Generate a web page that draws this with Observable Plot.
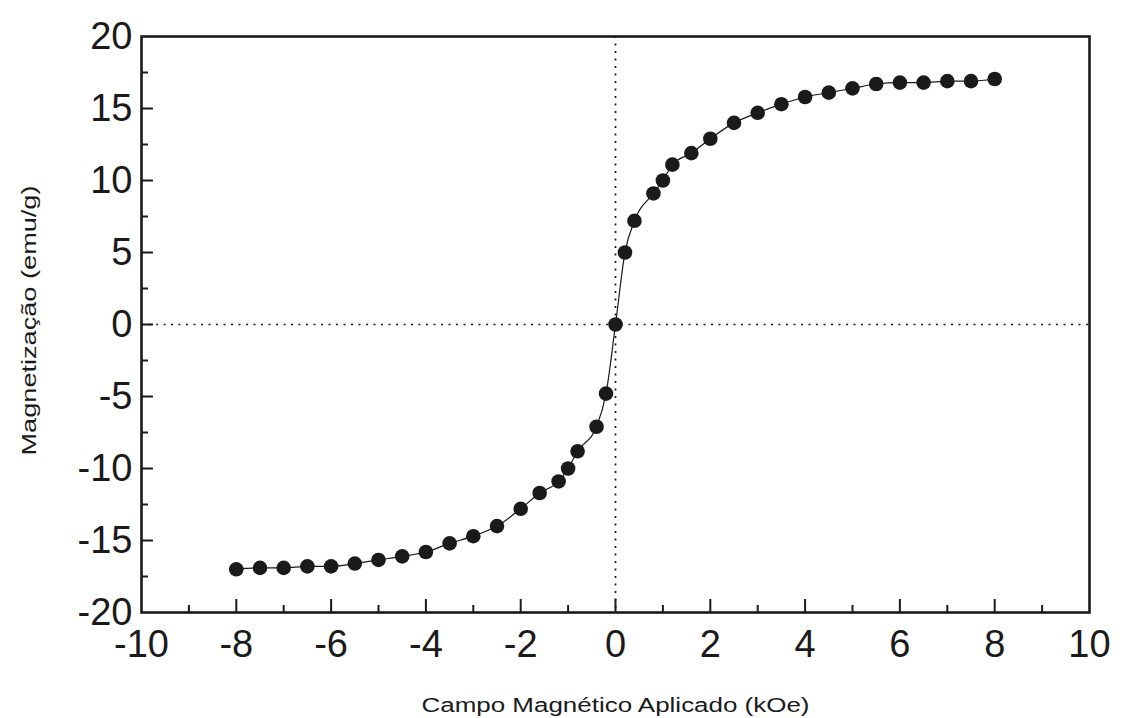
<!DOCTYPE html>
<html>
<head>
<meta charset="utf-8">
<script src="https://cdn.jsdelivr.net/npm/d3@7"></script>
<script src="https://cdn.jsdelivr.net/npm/@observablehq/plot@0.6"></script>
<style>
  html, body { margin: 0; padding: 0; background: #fff; }
  svg { display: block; }
</style>
</head>
<body>
<div id="chart"></div>
<script>
// Applied magnetic field (kOe)
const field = [-8, -7.5, -7, -6.5, -6, -5.5, -5, -4.5, -4, -3.5, -3, -2.5, -2, -1.6, -1.2, -1.0, -0.8, -0.4, -0.2,
  0,
  0.2, 0.4, 0.8, 1.0, 1.2, 1.6, 2, 2.5, 3, 3.5, 4, 4.5, 5, 5.5, 6, 6.5, 7, 7.5, 8];
// Magnetization (emu/g)
const magnetization = [-17.0, -16.9, -16.9, -16.8, -16.8, -16.6, -16.35, -16.1, -15.8, -15.2, -14.7, -14.0, -12.8, -11.7, -10.9, -10.0, -8.8, -7.1, -4.8,
  0,
  5.0, 7.2, 9.1, 10.0, 11.1, 11.9, 12.9, 14.0, 14.7, 15.3, 15.8, 16.1, 16.4, 16.7, 16.8, 16.8, 16.9, 16.9, 17.05];

const xTicks = [-10, -8, -6, -4, -2, 0, 2, 4, 6, 8, 10];
const xMajorInner = [-8, -6, -4, -2, 0, 2, 4, 6, 8];
const xMinor = [-9, -7, -5, -3, -1, 1, 3, 5, 7, 9];
const yTicks = [-20, -15, -10, -5, 0, 5, 10, 15, 20];
const yMajorInner = [-15, -10, -5, 0, 5, 10, 15];
const yMinor = [-17.5, -12.5, -7.5, -2.5, 2.5, 7.5, 12.5, 17.5];
const zeroLines = [0];

const xTitle = "Campo Magnético Aplicado (kOe)";
const yTitle = "Magnetização (emu/g)";

const data = field.map((f, i) => ({H: f, M: magnetization[i]}));

const W = 1125, H = 718;
const mL = 141, mR = 36, mT = 36, mB = 106;
const innerW = W - mL - mR, innerH = H - mT - mB;
const ink = "#1a1a1a";

const chart = Plot.plot({
  width: W,
  height: H,
  marginLeft: mL,
  marginRight: mR,
  marginTop: mT,
  marginBottom: mB,
  style: {fontFamily: "'Liberation Sans', Arial, sans-serif", background: "#fff", color: ink},
  x: {domain: [-10, 10]},
  y: {domain: [-20, 20]},
  marks: [
    // dotted zero lines
    Plot.ruleX(zeroLines, {x: d => d, stroke: ink, strokeWidth: 1.7, strokeDasharray: "2,5.5"}),
    Plot.ruleY(zeroLines, {y: d => d, stroke: ink, strokeWidth: 1.7, strokeDasharray: "2,5.5"}),
    // inward ticks
    Plot.ruleX(xMajorInner, {x: d => d, insetTop: innerH - 13, stroke: ink, strokeWidth: 2}),
    Plot.ruleX(xMinor, {x: d => d, insetTop: innerH - 7, stroke: ink, strokeWidth: 2}),
    Plot.ruleY(yMajorInner, {y: d => d, insetRight: innerW - 12, stroke: ink, strokeWidth: 2}),
    Plot.ruleY(yMinor, {y: d => d, insetRight: innerW - 7, stroke: ink, strokeWidth: 2}),
    // tick labels
    Plot.axisX(xTicks, {anchor: "bottom", tickSize: 0, tickPadding: 18, fontSize: 38, tickFormat: d => String(d), label: null, fill: ink}),
    Plot.axisY(yTicks, {anchor: "left", tickSize: 0, tickPadding: 9, fontSize: 38, tickFormat: d => String(d), label: null, fill: ink}),
    // curve + points
    Plot.line(data, {x: "H", y: "M", stroke: ink, strokeWidth: 1.2, curve: "monotone-x"}),
    Plot.dot(data, {x: "H", y: "M", r: 7.3, fill: ink, stroke: "none"}),
    // frame
    Plot.frame({stroke: ink, strokeWidth: 2.6}),
    // axis titles
    Plot.text([xTitle], {frameAnchor: "bottom", textAnchor: "middle", lineAnchor: "middle", dy: 92.6, fontSize: 20, fill: ink}),
    Plot.text([yTitle], {frameAnchor: "left", textAnchor: "middle", lineAnchor: "middle", dx: -112, dy: -4, rotate: -90, fontSize: 20, fill: ink})
  ]
});

const svg = d3.select(chart);
svg.selectAll("text").filter(function() { return this.textContent === xTitle; })
  .attr("textLength", 388).attr("lengthAdjust", "spacingAndGlyphs");
svg.selectAll("text").filter(function() { return this.textContent === yTitle; })
  .attr("textLength", 270).attr("lengthAdjust", "spacingAndGlyphs");

document.getElementById("chart").appendChild(chart);
</script>
</body>
</html>
